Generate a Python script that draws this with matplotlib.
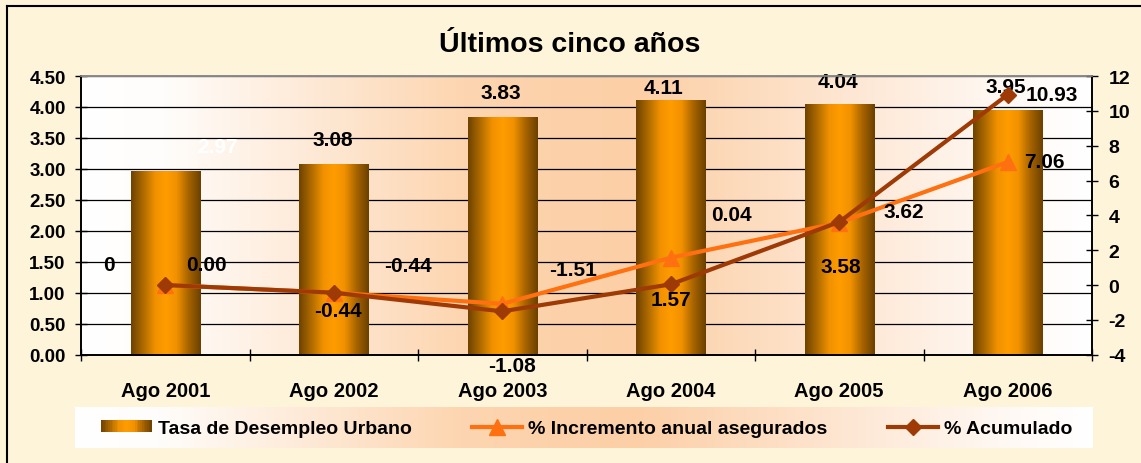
import numpy as np
import matplotlib.pyplot as plt
from matplotlib.colors import LinearSegmentedColormap
from matplotlib.legend_handler import HandlerBase
from matplotlib.patches import Rectangle
from matplotlib.lines import Line2D

plt.rcParams['font.family'] = ['Liberation Sans', 'DejaVu Sans']
plt.rcParams['font.weight'] = 'bold'
plt.rcParams['axes.unicode_minus'] = False

# data
categories = ['Ago 2001', 'Ago 2002', 'Ago 2003', 'Ago 2004', 'Ago 2005', 'Ago 2006']
tasa = [2.97, 3.08, 3.83, 4.11, 4.04, 3.95]
incremento = [0.0, -0.44, -1.08, 1.57, 3.58, 7.06]
acumulado = [0.0, -0.44, -1.51, 0.04, 3.62, 10.93]

left_ticks = np.arange(0, 4.51, 0.5)
right_ticks = np.arange(-4, 13, 2)

# label offsets in pixels (the original places them rather oddly)
tasa_off = [(52, 24), (-1, 24), (-1, 25), (-7, 13), (-1, 23), (-2, 24)]
inc_off = [(-56, 21), (4, -18), (10, -62), (0, -42), (2, -44), (37, 1)]
acu_off = [(41, 21), (74, 27), (71, 42), (61, 70), (65, 10), (44, 0)]

bar_cmap = LinearSegmentedColormap.from_list('bar', [
    (0.0, '#6E4200'), (0.2, '#B87000'), (0.35, '#F29200'), (0.5, '#FF9C00'),
    (0.65, '#F29200'), (0.82, '#A86400'), (1.0, '#6B4000')])
bg_cmap = LinearSegmentedColormap.from_list('bg', [
    (0.0, '#FFFFFF'), (0.08, '#FFFDFB'), (0.38, '#FDD5B0'), (0.55, '#FCCFA6'),
    (0.92, '#FFF9F5'), (1.0, '#FFFFFF')])
grad = np.linspace(0, 1, 256)[None, :]


class GradientHandler(HandlerBase):
    def create_artists(self, legend, orig_handle, xdescent, ydescent,
                       width, height, fontsize, trans):
        n = 30
        out = []
        for k in range(n):
            r = Rectangle((-xdescent + width * k / n, -ydescent), width / n * 1.05, height,
                          facecolor=bar_cmap((k + 0.5) / n), edgecolor='none', transform=trans)
            out.append(r)
        return out


fig = plt.figure(figsize=(11.41, 4.64), dpi=100)
fig.patch.set_facecolor('#FDF4DA')

ax = fig.add_axes([81 / 1141, 108.3 / 464, 1011 / 1141, 278.7 / 464])
x = np.arange(len(categories))

ax.imshow(grad, cmap=bg_cmap, extent=[0, 1, 0, 1], transform=ax.transAxes,
          aspect='auto', zorder=-1)

bars = ax.bar(x, tasa, width=0.41, color='none', zorder=2)
for rect in bars:
    ax.imshow(grad, cmap=bar_cmap, aspect='auto', zorder=2,
              extent=[rect.get_x(), rect.get_x() + rect.get_width(), 0, rect.get_height()])

ax.set_xlim(-0.5, len(categories) - 0.5)
ax.set_ylim(0, 4.5)
ax.set_yticks(left_ticks)
ax.set_yticklabels([f'{t:.2f}' for t in left_ticks])
ax.set_axisbelow(True)
ax.yaxis.grid(True, color='black', lw=0.9)

ax.set_xticks(x)
ax.set_xticklabels(categories)
ax.set_xticks(np.arange(-0.5, len(categories), 1), minor=True)
ax.tick_params(axis='x', which='major', length=0, pad=19, labelsize=14.5)
ax.tick_params(axis='x', which='minor', direction='inout', length=8, width=1)
ax.tick_params(axis='y', direction='inout', length=8, width=1, labelsize=13.5, pad=7)

for i, v in enumerate(tasa):
    ax.annotate(f'{v:.2f}', xy=(i, v), xytext=tasa_off[i], textcoords='offset pixels',
                ha='center', va='center', fontsize=15, fontweight='bold',
                color='white' if i == 0 else 'black', zorder=4)

ax2 = ax.twinx()
ax2.set_ylim(-4, 12)
ax2.set_yticks(right_ticks)
ax2.tick_params(axis='y', direction='inout', length=8, width=1, labelsize=14, pad=8)

l_inc, = ax2.plot(x, incremento, color='#FF7010', lw=3, marker='^', markersize=11,
                  label='% Incremento anual asegurados', zorder=3)
l_acu, = ax2.plot(x, acumulado, color='#9E3A06', lw=3, marker='D', markersize=8,
                  label='% Acumulado', zorder=4)

for i, v in enumerate(incremento):
    ax2.annotate('0' if v == 0 else f'{v:.2f}', xy=(i, v), xytext=inc_off[i],
                 textcoords='offset pixels', ha='center', va='center',
                 fontsize=15, fontweight='bold', annotation_clip=False, zorder=5)
for i, v in enumerate(acumulado):
    ax2.annotate(f'{v:.2f}', xy=(i, v), xytext=acu_off[i],
                 textcoords='offset pixels', ha='center', va='center',
                 fontsize=15, fontweight='bold', annotation_clip=False, zorder=5)

for a in (ax, ax2):
    for s in ('left', 'right', 'bottom'):
        a.spines[s].set_color('black')
        a.spines[s].set_linewidth(1.2)
    a.spines['top'].set_color('#8A8A8A')
    a.spines['top'].set_linewidth(1.2)

fig.text(570 / 1141, 1 - 45 / 464, 'Últimos cinco años', ha='center', va='center',
         fontsize=20.5, fontweight='bold')

# outer frame (only top and left show in the original crop)
fig.add_artist(Line2D([7 / 1141, 1], [1 - 7 / 464, 1 - 7 / 464], transform=fig.transFigure,
                      color='black', lw=1.5))
fig.add_artist(Line2D([7 / 1141, 7 / 1141], [0, 1 - 7 / 464], transform=fig.transFigure,
                      color='black', lw=1.5))

# legend with gradient background
lax = fig.add_axes([75 / 1141, 15 / 464, 1018 / 1141, 41 / 464])
lax.imshow(grad, cmap=bg_cmap, aspect='auto', extent=[0, 1, 0, 1])
lax.set_axis_off()

bar_proxy = Rectangle((0, 0), 1, 1)
fig.legend([bar_proxy, l_inc, l_acu],
           ['Tasa de Desempleo Urbano', '% Incremento anual asegurados', '% Acumulado'],
           handler_map={bar_proxy: GradientHandler()},
           loc='center', bbox_to_anchor=(587 / 1141, 34.5 / 464), ncol=3, frameon=False,
           fontsize=14, handlelength=2.6, handleheight=0.6, handletextpad=0.3,
           columnspacing=3.1, borderpad=0.2)

fig.savefig('out.png', dpi=100, facecolor=fig.get_facecolor())
